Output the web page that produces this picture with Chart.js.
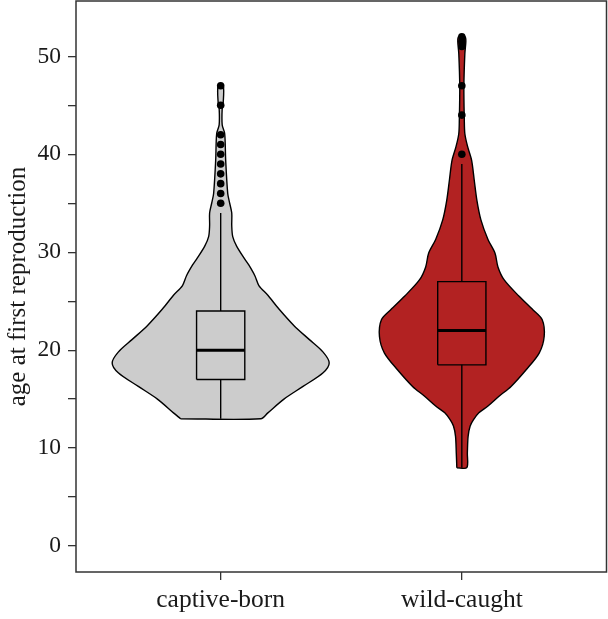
<!DOCTYPE html>
<html>
<head>
<meta charset="utf-8">
<script src="https://cdn.jsdelivr.net/npm/chart.js@4.4.0/dist/chart.umd.min.js"></script>
<style>
  html, body { margin: 0; padding: 0; background: #fff; }
  #wrap { width: 608px; height: 619px; }
</style>
</head>
<body>
<div id="wrap"><canvas id="chart"></canvas></div>
<script>
// groups on the x axis
const groups = ['captive-born', 'wild-caught'];

// violin outlines: age and relative density (widest violin = 1)
const captiveAges = [13, 13.6, 15.0, 16.3, 17.7, 18.7, 19.8, 21.1, 22.5, 24.2, 25.6, 26.6, 27.6, 28.7, 29.3, 30.6, 31.6, 32.7, 34, 35, 36, 39.4, 42.1, 43, 44.7, 45.2, 47];
const captiveDens = [0.370, 0.435, 0.583, 0.759, 0.944, 1.0, 0.944, 0.815, 0.676, 0.537, 0.435, 0.352, 0.315, 0.259, 0.222, 0.148, 0.111, 0.102, 0.102, 0.083, 0.065, 0.046, 0.037, 0.014, 0.014, 0.023, 0.023];
const wildAges = [8, 9.5, 11.2, 12.25, 12.9, 13.6, 14.3, 15.3, 16.3, 18.0, 19.7, 21.4, 23.1, 24.1, 25.5, 27.2, 28.5, 29.9, 31.3, 33.3, 35.3, 37.4, 39.4, 40.8, 42.1, 43.5, 46.9, 50.3, 51.5, 52];
const wildDens = [0.046, 0.051, 0.058, 0.077, 0.108, 0.157, 0.241, 0.343, 0.454, 0.593, 0.713, 0.759, 0.741, 0.657, 0.528, 0.389, 0.333, 0.306, 0.241, 0.176, 0.139, 0.114, 0.090, 0.053, 0.028, 0.023, 0.019, 0.028, 0.037, 0.030];

// box plot stats per group
const whiskLow = [13, 8];
const q1 = [17, 18.5];
const median = [20, 22];
const q3 = [24, 27];
const whiskHigh = [34, 39];

// outliers
const captiveOut = [35, 36, 37, 38, 39, 40, 41, 42, 45, 47];
const wildOut = [40, 44, 47, 51, 51.5, 52];

const fills = ['#cccccc', '#b22222'];
const violinHalf = 0.45;
const boxHalf = 0.1;

Chart.defaults.font.family = "'Liberation Serif', 'Times New Roman', serif";
Chart.defaults.color = '#1a1a1a';

function violinPoints(center, ages, dens) {
    let left = ages.map((a, i) => ({x: center - dens[i] * violinHalf, y: a}));
    let right = ages.map((a, i) => ({x: center + dens[i] * violinHalf, y: a})).reverse();
    return left.concat(right, [left[0]]);
}

function boxPoints(i) {
    let c = i + 1;
    return [
        {x: c - boxHalf, y: q1[i]}, {x: c + boxHalf, y: q1[i]},
        {x: c + boxHalf, y: q3[i]}, {x: c - boxHalf, y: q3[i]},
        {x: c - boxHalf, y: q1[i]}
    ];
}

var datasets = [];
[[captiveAges, captiveDens], [wildAges, wildDens]].forEach(function (v, i) {
    datasets.push({
        data: violinPoints(i + 1, v[0], v[1]),
        fill: 'shape', backgroundColor: fills[i],
        borderColor: '#000', borderWidth: 1.4,
        pointRadius: 0, tension: 0.3, order: 5
    });
    datasets.push({
        data: [{x: i + 1, y: whiskLow[i]}, {x: i + 1, y: q1[i]}, {x: i + 1, y: null},
               {x: i + 1, y: q3[i]}, {x: i + 1, y: whiskHigh[i]}],
        borderColor: '#000', borderWidth: 1.4, pointRadius: 0, spanGaps: false, fill: false, order: 4
    });
    datasets.push({
        data: boxPoints(i),
        borderColor: '#000', borderWidth: 1.4, pointRadius: 0, fill: false, order: 3
    });
    datasets.push({
        data: [{x: i + 1 - boxHalf, y: median[i]}, {x: i + 1 + boxHalf, y: median[i]}],
        borderColor: '#000', borderWidth: 3, pointRadius: 0, fill: false, order: 2
    });
});
[captiveOut, wildOut].forEach(function (arr, i) {
    datasets.push({
        data: arr.map(v => ({x: i + 1, y: v})),
        showLine: false, pointRadius: 3.8, pointBorderWidth: 0,
        pointBackgroundColor: '#000', order: 1
    });
});

// frame round the plot area
const frame = {
    id: 'frame',
    afterDatasetsDraw(chart) {
        const a = chart.chartArea, ctx = chart.ctx;
        ctx.save();
        ctx.strokeStyle = '#333';
        ctx.lineWidth = 1.5;
        ctx.strokeRect(a.left, a.top, a.right - a.left, a.bottom - a.top);
        ctx.restore();
    }
};

function noPad(s) {
    s.paddingTop = 0; s.paddingBottom = 0; s.paddingLeft = 0; s.paddingRight = 0;
}

new Chart(document.getElementById('chart'), {
    type: 'line',
    data: {datasets: datasets},
    plugins: [frame],
    options: {
        responsive: true,
        maintainAspectRatio: false,
        animation: false,
        layout: {autoPadding: false, padding: {top: 1, right: 1.5, left: 0, bottom: 0}},
        plugins: {legend: {display: false}, tooltip: {enabled: false}},
        scales: {
            x: {
                type: 'linear', min: 0.4, max: 2.6,
                afterBuildTicks: s => { s.ticks = groups.map((g, i) => ({value: i + 1})); },
                afterFit: s => { s.height = 47; noPad(s); },
                ticks: {
                    autoSkip: false, maxRotation: 0, padding: 5,
                    font: {size: 25.5}, color: '#1a1a1a',
                    callback: (v, i) => groups[i]
                },
                grid: {drawOnChartArea: false, tickLength: 8, color: '#333', lineWidth: 1.3},
                border: {display: false}
            },
            y: {
                type: 'linear', min: -2.65, max: 55.65,
                afterBuildTicks: s => {
                    let t = [];
                    for (let v = 0; v <= 50; v += 5) t.push({value: v});
                    s.ticks = t;
                },
                afterFit: s => { s.width = 76; noPad(s); },
                ticks: {
                    padding: 7, font: {size: 23.5}, color: '#1a1a1a',
                    callback: v => (v % 10 === 0 ? String(v) : '')
                },
                grid: {drawOnChartArea: false, tickLength: 8, color: '#333', lineWidth: 1.3},
                border: {display: false},
                title: {display: true, text: 'age at first reproduction', font: {size: 25}, color: '#1a1a1a', padding: {top: 3, bottom: 0}}
            }
        }
    }
});
</script>
</body>
</html>
